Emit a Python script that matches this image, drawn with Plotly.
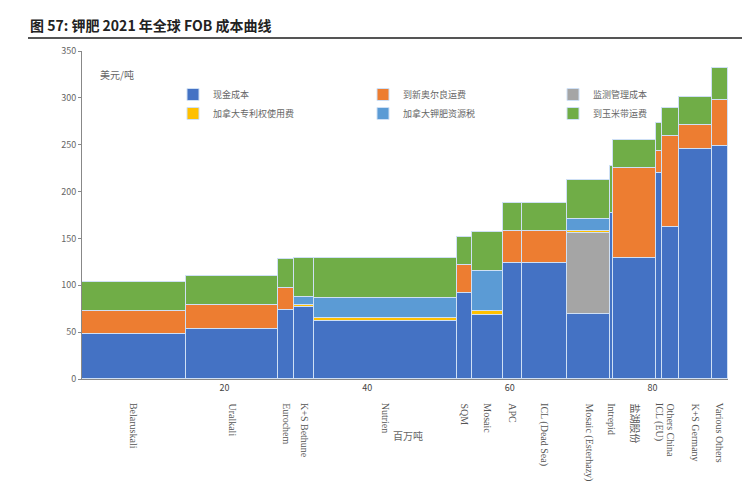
import plotly.graph_objects as go

names = ["Belaruskali", "Uralkali", "Eurochem", "K+S Bethune", "Nutrien", "SQM", "Mosaic", "APC",
         "ICL (Dead Sea)", "Mosaic (Esterhazy)", "Intrepid", "盐湖股份", "ICL (EU)", "Others China",
         "K+S Germany", "Various Others"]
edges = [0, 14.6, 27.5, 29.8, 32.6, 52.6, 54.7, 59.1, 61.7, 68.0, 74.1, 74.5, 80.5, 81.4, 83.7, 88.4, 90.6]

cash = [48, 53, 74, 77, 62, 92, 68, 124, 124, 69, 177, 129, 220, 162, 245, 249]
nola = [25, 26, 23, 0, 0, 30, 0, 34, 34, 0, 0, 96, 23, 97, 26, 49]
monitor = [0, 0, 0, 0, 0, 0, 0, 0, 0, 87, 0, 0, 0, 0, 0, 0]
royalty = [0, 0, 0, 2, 3, 0, 5, 0, 0, 2, 0, 0, 0, 0, 0, 0]
restax = [0, 0, 0, 8, 21, 0, 42, 0, 0, 13, 0, 0, 0, 0, 0, 0]
cornbelt = [31, 31, 31, 42, 43, 30, 42, 30, 30, 41, 50, 30, 30, 30, 30, 34]

series = [
    ("现金成本", cash, "#4472c4"),
    ("到新奥尔良运费", nola, "#ed7d31"),
    ("监测管理成本", monitor, "#a5a5a5"),
    ("加拿大专利权使用费", royalty, "#ffc000"),
    ("加拿大钾肥资源税", restax, "#5b9bd5"),
    ("到玉米带运费", cornbelt, "#70ad47"),
]

centers = [(a + b) / 2 for a, b in zip(edges[:-1], edges[1:])]
widths = [b - a for a, b in zip(edges[:-1], edges[1:])]

fig = go.Figure()
for name, vals, col in series:
    fig.add_trace(go.Bar(x=centers, y=vals, width=widths, name=name,
                         marker=dict(color=col, line=dict(color="#cfe0f5", width=1))))

for c, n in zip(centers, names):
    fig.add_annotation(x=c, y=0, yref="y", yshift=-22, text=n, textangle=90, showarrow=False,
                       xanchor="center", yanchor="top", font=dict(size=10, color="#555", family="Liberation Serif, Noto Sans CJK SC"))

# paper coords: plot area is 646 x 328 px, starting at (74, 43)
def px(x):
    return (x - 74) / 646

def py(y):
    return (371 - y) / 328

fig.add_annotation(x=px(90), y=py(67), xref="paper", yref="paper", text="美元/吨", showarrow=False,
                   xanchor="left", yanchor="middle", font=dict(size=10, color="#666"))
fig.add_annotation(x=px(400), y=py(437), xref="paper", yref="paper", text="百万吨", showarrow=False,
                   font=dict(size=10, color="#666"))
fig.add_annotation(x=px(20), y=py(17), xref="paper", yref="paper", text="<b>图 57: 钾肥 2021 年全球 FOB 成本曲线</b>",
                   showarrow=False, xanchor="left", yanchor="middle", font=dict(size=14, color="#222"))
fig.add_shape(type="line", xref="paper", yref="paper", x0=px(20), x1=px(748),
              y0=py(30), y1=py(30), line=dict(color="#555", width=2))
fig.add_shape(type="line", xref="paper", yref="paper", x0=px(20), x1=px(748),
              y0=py(493), y1=py(493), line=dict(color="#888", width=2))

fig.update_layout(
    width=750, height=500, barmode="stack", bargap=0,
    margin=dict(l=74, r=30, t=43, b=129, autoexpand=False),
    plot_bgcolor="white", paper_bgcolor="white",
    font=dict(family="Noto Sans CJK SC", size=10, color="#666"),
    legend=dict(orientation="h", x=px(165), y=py(72), xanchor="left", yanchor="top",
                entrywidth=145, entrywidthmode="pixels", traceorder="normal",
                font=dict(size=9, color="#666"), bgcolor="rgba(0,0,0,0)"),
    xaxis=dict(range=[0, 90.6], tickvals=[20, 40, 60, 80], showgrid=False, showline=True,
               linecolor="#888", ticks="", tickfont=dict(size=9, color="#444")),
    yaxis=dict(range=[0, 350], dtick=50, showgrid=False, showline=True, linecolor="#888",
               ticks="outside", ticklen=3, tickcolor="#888", tickfont=dict(size=9, color="#666")),
)

fig.write_html("out.html")
